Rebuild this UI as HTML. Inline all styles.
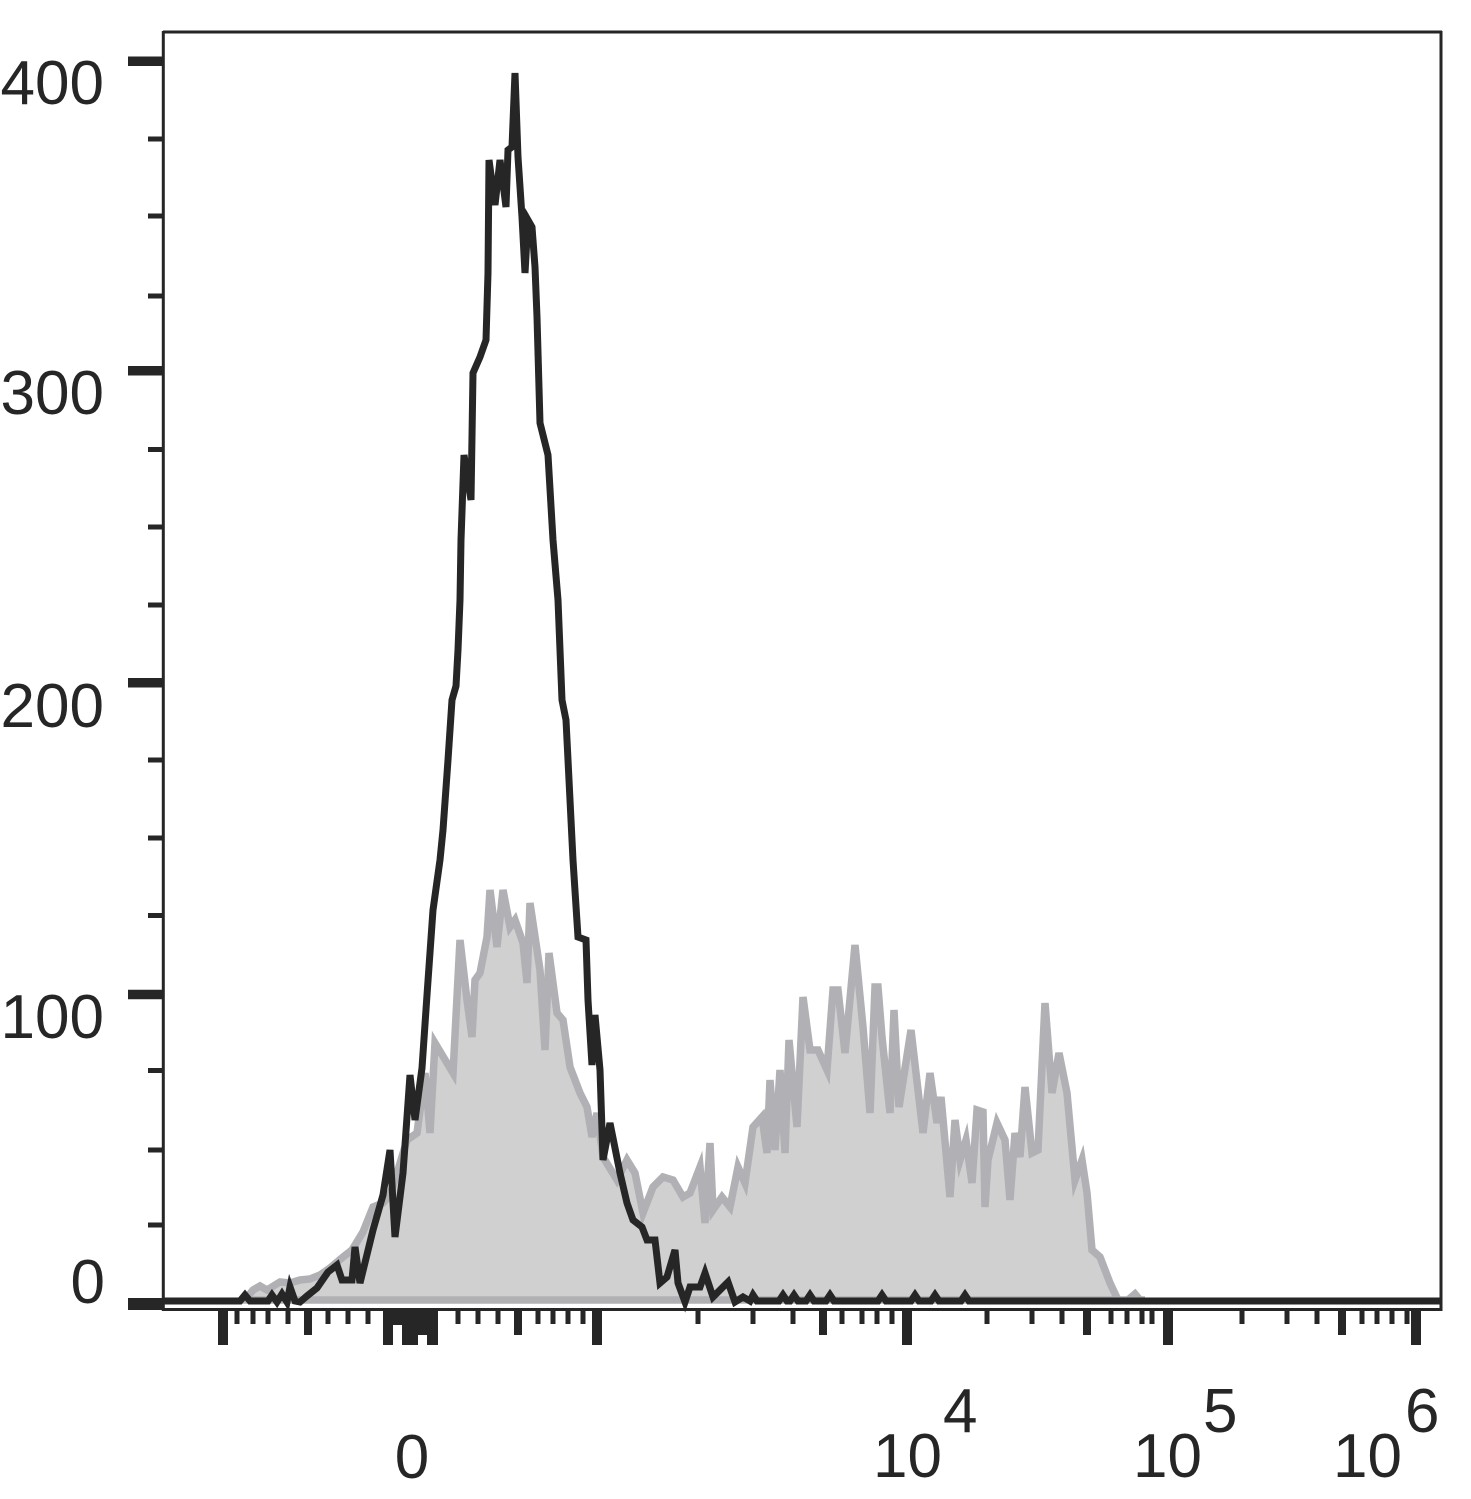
<!DOCTYPE html>
<html>
<head>
<meta charset="utf-8">
<style>
html,body{margin:0;padding:0;background:#fff;}
svg{display:block;}
text{font-family:"Liberation Sans",Arial,sans-serif;font-size:62px;fill:#262626;}
</style>
</head>
<body>
<svg width="1471" height="1499" viewBox="0 0 1471 1499" xmlns="http://www.w3.org/2000/svg">
<rect x="0" y="0" width="1471" height="1499" fill="#fff"/>
<polygon fill="#d0d0d0" stroke="#b1b1b5" stroke-width="7.5" stroke-linejoin="miter" stroke-miterlimit="5" points="245,1300 253,1290 260,1286 267,1290 275,1285 280,1282 290,1283 300,1280 310,1279 320,1275 330,1268 343,1257 352,1250 363,1232 373,1207 383,1203 390,1195 398,1170 407,1140 417,1133 425,1073 430,1133 435,1043 447,1063 453,1073 460,940 467,1000 472,1037 475,980 480,973 487,937 490,890 497,947 503,890 510,927 515,920 523,943 527,983 530,903 540,970 545,1050 549,953 557,1013 563,1020 570,1067 580,1093 587,1107 592,1137 597,1113 603,1157 617,1180 627,1160 635,1173 643,1213 653,1187 663,1177 673,1180 683,1197 690,1193 700,1167 705,1223 710,1143 713,1210 722,1197 730,1207 738,1167 745,1183 753,1127 762,1117 767,1153 770,1080 775,1150 780,1070 785,1153 789,1040 797,1127 803,997 810,1050 818,1050 827,1070 833,990 838,990 845,1053 855,945 863,1027 870,1113 875,987 878,987 882,1037 890,1113 894,1010 899,1107 911,1030 923,1133 930,1073 937,1123 941,1097 950,1197 955,1120 960,1160 966,1140 972,1183 977,1110 983,1112 985,1207 988,1160 997,1123 1005,1140 1010,1200 1015,1133 1020,1157 1025,1087 1032,1153 1038,1150 1045,1003 1052,1093 1059,1053 1067,1093 1075,1180 1082,1160 1087,1193 1092,1250 1100,1257 1110,1283 1118,1300 1128,1300 1135,1294 1140,1300 1145,1300"/>
<polyline fill="none" stroke="#262626" stroke-width="7" stroke-linejoin="miter" stroke-miterlimit="5" points="163,1301 240,1301 245,1295 250,1301 268,1301 272,1295 277,1302 282,1294 287,1302 290,1287 295,1301 300,1302 307,1296 317,1288 328,1272 337,1265 342,1280 352,1280 355,1247 360,1283 373,1230 383,1195 390,1150 395,1237 403,1173 410,1075 415,1120 422,1068 427,995 433,910 440,860 443,830 448,760 452,700 456,686 458,650 460,600 461,540 464,455 471,500 473,373 480,357 486,340 488,273 489,160 495,205 500,160 506,207 508,150 512,147 515,73 518,157 522,217 525,273 528,220 532,227 535,267 537,317 540,423 548,455 553,540 558,600 562,700 566,720 570,800 573,860 578,937 586,940 588,1000 592,1065 595,1015 600,1070 603,1160 610,1123 620,1173 627,1203 633,1220 642,1227 647,1240 655,1240 660,1283 667,1277 675,1250 678,1283 685,1302 690,1287 700,1287 705,1273 713,1297 720,1290 728,1282 735,1302 743,1297 750,1301 753,1295 757,1301 779,1301 783,1295 787,1301 790,1301 794,1295 798,1301 806,1301 810,1295 814,1301 826,1301 830,1295 834,1301 878,1301 882,1295 886,1301 911,1301 915,1295 919,1301 931,1301 935,1295 939,1301 961,1301 965,1295 969,1301 1441,1301"/>
<path d="M163 32H1442M1441 31V1311M163.3 31V1311M162 1309.5H1442" stroke="#262626" stroke-width="3" fill="none"/>
<path d="M128 61.25H163M128 370.75H163M128 682.75H163M128 994.5H163" stroke="#262626" stroke-width="9.5" fill="none"/>
<path d="M128 1304H163" stroke="#262626" stroke-width="12" fill="none"/>
<path d="M148 139H163M148 216H163M148 296H163M148 449.5H163M148 527H163M148 605H163M148 760H163M148 838H163M148 915.5H163M148 1070.5H163M148 1150H163M148 1225H163" stroke="#262626" stroke-width="5" fill="none"/>
<path d="M223 1309V1345M597 1309V1345M907 1309V1345M1168 1309V1345M1416 1309V1345" stroke="#262626" stroke-width="10" fill="none"/>
<path d="M308 1309V1335M518 1309V1335M823 1309V1335M1087 1309V1335M1342 1309V1335" stroke="#262626" stroke-width="8" fill="none"/>
<path d="M237 1309V1324M253 1309V1324M268 1309V1324M288 1309V1324M328 1309V1324M348 1309V1324M368 1309V1324M458 1309V1324M478 1309V1324M498 1309V1324M538 1309V1324M553 1309V1324M568 1309V1324M583 1309V1324M698 1309V1324M753 1309V1324M793 1309V1324M842 1309V1324M862 1309V1324M877 1309V1324M892 1309V1324M987 1309V1324M1032 1309V1324M1062 1309V1324M1111 1309V1324M1127 1309V1324M1142 1309V1324M1152 1309V1324M1242 1309V1324M1287 1309V1324M1317 1309V1324M1362 1309V1324M1377 1309V1324M1392 1309V1324M1407 1309V1324" stroke="#262626" stroke-width="5" fill="none"/>
<path d="M383 1309H438V1345H427V1335H418V1345H402V1325H393V1345H383Z" fill="#262626"/>
<text x="104" y="104" text-anchor="end">400</text>
<text x="104" y="414" text-anchor="end">300</text>
<text x="104" y="727" text-anchor="end">200</text>
<text x="104" y="1038" text-anchor="end">100</text>
<text x="105" y="1303" text-anchor="end">0</text>
<text x="412" y="1478" text-anchor="middle">0</text>
<text x="873" y="1477">10</text>
<text x="943" y="1432">4</text>
<text x="1133" y="1477">10</text>
<text x="1203" y="1432">5</text>
<text x="1333" y="1477">10</text>
<text x="1405" y="1432">6</text>
</svg>
</body>
</html>
